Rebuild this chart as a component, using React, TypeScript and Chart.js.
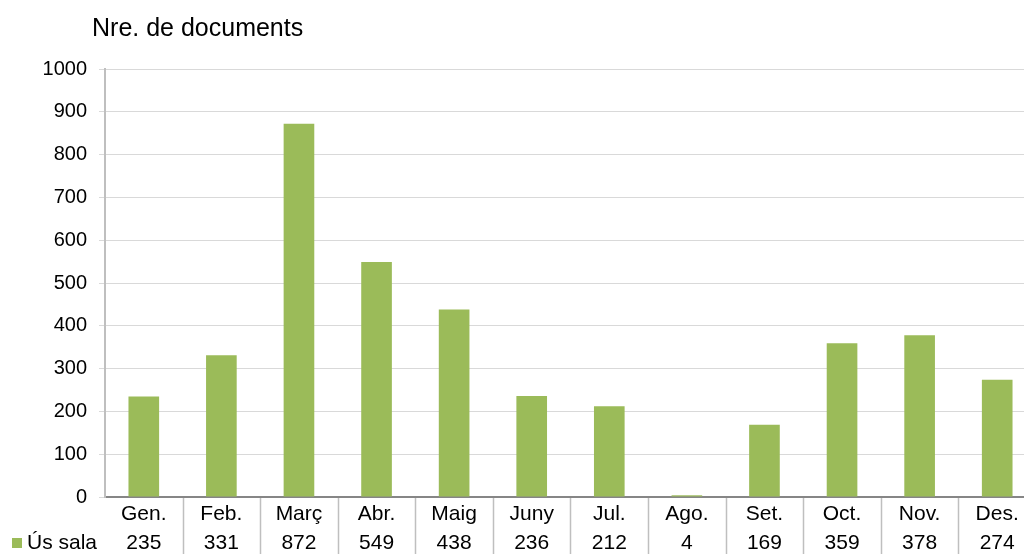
import React, { useEffect, useRef } from "react";
import { Chart, registerables } from "chart.js";

Chart.register(...registerables);

const months = ["Gen.", "Feb.", "Març", "Abr.", "Maig", "Juny", "Jul.", "Ago.", "Set.", "Oct.", "Nov.", "Des."];
const usSala = [235, 331, 872, 549, 438, 236, 212, 4, 169, 359, 378, 274];
const seriesName = "Ús sala";
const yTitle = "Nre. de documents";
const yMin = 0;
const yMax = 1000;
const yStep = 100;

const GREEN = "#9BBB59";
const FONT = "'Liberation Sans', Arial, sans-serif";

const tablePlugin = {
  id: "dataTable",
  afterDraw(chart: any) {
    const { ctx, chartArea } = chart;
    const xs = chart.scales.x;
    const n = months.length;
    const step = (xs.getPixelForValue(1) - xs.getPixelForValue(0));
    const bottom = chartArea.bottom;
    ctx.save();
    // divider lines
    ctx.strokeStyle = "#bfbfbf";
    ctx.lineWidth = 1.5;
    for (let i = 1; i <= n; i++) {
      const x = Math.round(xs.getPixelForValue(i - 1) + step / 2) + 0.5;
      ctx.beginPath();
      ctx.moveTo(x, bottom + 1);
      ctx.lineTo(x, chart.height);
      ctx.stroke();
    }
    // labels
    ctx.fillStyle = "#000";
    ctx.font = `21px ${FONT}`;
    ctx.textAlign = "center";
    ctx.textBaseline = "middle";
    for (let i = 0; i < n; i++) {
      const x = xs.getPixelForValue(i);
      ctx.fillText(months[i], x, bottom + 17);
      ctx.fillText(String(usSala[i]), x, bottom + 46);
    }
    // legend key
    ctx.fillStyle = GREEN;
    ctx.fillRect(12, bottom + 41, 10, 10);
    ctx.fillStyle = "#000";
    ctx.textAlign = "left";
    ctx.fillText(seriesName, 27, bottom + 46);
    // title
    ctx.font = `25px ${FONT}`;
    ctx.textBaseline = "middle";
    ctx.fillText(yTitle, 92, 29);
    ctx.restore();
  },
};

export default function App() {
  const ref = useRef<HTMLCanvasElement>(null);
  useEffect(() => {
    if (!ref.current) return;
    const chart = new Chart(ref.current, {
      type: "bar",
      data: {
        labels: months,
        datasets: [
          {
            label: seriesName,
            data: usSala,
            backgroundColor: GREEN,
            borderWidth: 0,
            barPercentage: 0.395,
            categoryPercentage: 1,
          },
        ],
      },
      options: {
        animation: false,
        responsive: false,
        layout: { padding: { top: 69, right: 4, left: 0, bottom: 0 } },
        plugins: {
          legend: { display: false },
          tooltip: { enabled: false },
          title: { display: false },
        },
        scales: {
          x: {
            grid: { display: false },
            border: { display: true, color: "#868686", width: 2 },
            ticks: { display: false },
            afterFit: (s: any) => {
              s.height = 57;
            },
          },
          y: {
            min: yMin,
            max: yMax,
            ticks: {
              stepSize: yStep,
              color: "#000",
              font: { family: FONT, size: 20 },
              padding: 12,
              callback: (v: any) => String(v),
            },
            grid: { color: "#d9d9d9", lineWidth: 1, tickLength: 6 },
            border: { display: true, color: "#bfbfbf", width: 2 },
            afterFit: (s: any) => {
              s.width = 105;
            },
          },
        },
      },
      plugins: [tablePlugin],
    });
    return () => chart.destroy();
  }, []);
  return (
    <div
      style={{
        position: "fixed",
        left: 0,
        top: 0,
        width: 1024,
        height: 554,
        overflow: "hidden",
        background: "#fff",
      }}
    >
      <canvas ref={ref} width={1040} height={554} style={{ display: "block" }} />
    </div>
  );
}
